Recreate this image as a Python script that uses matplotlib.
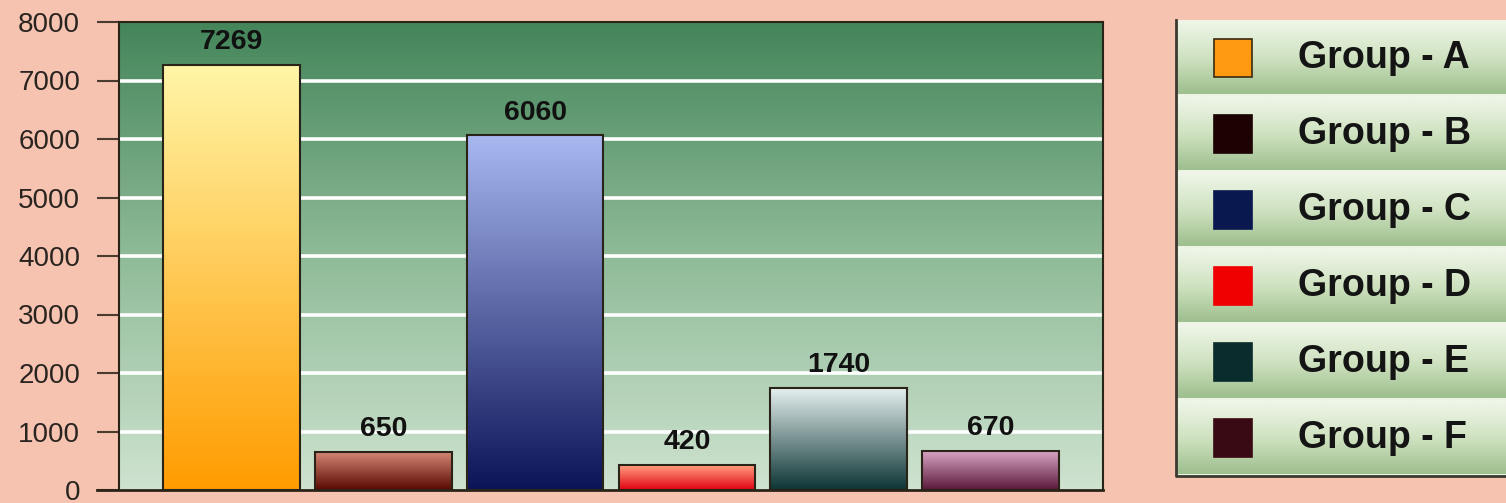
import numpy as np
import matplotlib
matplotlib.use("Agg")
import matplotlib.pyplot as plt
from matplotlib.colors import LinearSegmentedColormap
from matplotlib.patches import Rectangle

# data
groups = ["Group - A", "Group - B", "Group - C", "Group - D", "Group - E", "Group - F"]
values = [7269, 650, 6060, 420, 1740, 670]
yticks = [0, 1000, 2000, 3000, 4000, 5000, 6000, 7000, 8000]

# bar gradients (top colour, bottom colour) and legend swatch colours
bar_top = ["#fff6a8", "#d88a78", "#a8b8f0", "#ffa080", "#e6f0f0", "#dca8c8"]
bar_bottom = ["#ff9c00", "#580800", "#0c1458", "#e00010", "#0c3434", "#5a1838"]
swatch = ["#ff9a10", "#1c0202", "#0a1850", "#f00000", "#0a2c2c", "#3a0a14"]

bg = "#f5c3b0"
edge = "#2a2418"
plt.rcParams['font.family'] = ['Liberation Sans', 'DejaVu Sans']

fig = plt.figure(figsize=(15.06, 5.03), dpi=100)
fig.patch.set_facecolor(bg)
ax = fig.add_axes([119 / 1506, 13 / 503, (1103 - 119) / 1506, (490 - 22) / 503])

# green plot background gradient
plot_cmap = LinearSegmentedColormap.from_list("plot", ["#cfe3d0", "#8fbb98", "#44855a"])
ax.imshow(np.linspace(0, 1, 256).reshape(-1, 1), cmap=plot_cmap, origin="lower",
          extent=[0, 1, 0, 1], transform=ax.transAxes, aspect="auto", zorder=0)

for y in yticks[1:-1]:
    ax.axhline(y, color="white", lw=2.6, zorder=1)

x = np.arange(len(values))
width = 0.9
for i, v in enumerate(values):
    cmap = LinearSegmentedColormap.from_list("b%d" % i, [bar_bottom[i], bar_top[i]])
    x0, x1 = x[i] - width / 2, x[i] + width / 2
    ax.imshow(np.linspace(0, 1, 256).reshape(-1, 1), cmap=cmap, origin="lower",
              extent=[x0, x1, 0, v], aspect="auto", zorder=2)
    ax.add_patch(Rectangle((x0, 0), width, v, fill=False, ec=edge, lw=1.5, zorder=3))
    ax.text(x[i], v + 170, str(v), ha="center", va="bottom", fontsize=20.5,
            fontweight="bold", color="#111111", zorder=4)

ax.set_xlim(-0.74, 5.74)
ax.set_ylim(0, 8000)
ax.set_yticks(yticks)
ax.set_yticklabels([str(t) for t in yticks], fontsize=20, color="#2a2420")
ax.set_xticks([])
ax.tick_params(axis="y", length=16, width=1.5, color="#4a3a30", pad=12)
for s in ax.spines.values():
    s.set_color(edge)
    s.set_linewidth(1.5)
ax.spines["bottom"].set_visible(False)
ax.plot([-0.74 - 22 / 152, 5.74], [0, 0], color=edge, lw=2, clip_on=False, zorder=5)

# legend panel
lax = fig.add_axes([1176 / 1506, (503 - 476) / 503, (1506 - 1176) / 1506, (476 - 20) / 503])
lax.set_facecolor("#eef5e6")
lax.set_xticks([])
lax.set_yticks([])
for s in lax.spines.values():
    s.set_visible(False)
row_cmap = LinearSegmentedColormap.from_list("row", ["#9ebf8e", "#cfe2c0", "#eef6e8"])
for i, name in enumerate(groups):
    y0 = len(groups) - 1 - i
    lax.imshow(np.linspace(0, 1, 64).reshape(-1, 1), cmap=row_cmap, origin="lower",
               extent=[0, 1, y0 + 0.03, y0 + 0.97], aspect="auto", zorder=1)
    lax.add_patch(Rectangle((0.115, y0 + 0.25), 0.115, 0.5, fc=swatch[i],
                            ec="#3a2a10" if i == 0 else swatch[i], lw=1.2, zorder=2))
    lax.text(0.37, y0 + 0.5, name, ha="left", va="center", fontsize=27,
             fontweight="bold", color="#141414", zorder=3)
lax.set_xlim(0, 1)
lax.set_ylim(0, len(groups))
lax.plot([0, 0, 1], [len(groups), 0, 0], color="#3a3a30", lw=2, zorder=4, clip_on=False)

fig.savefig("out.png", dpi=100, facecolor=bg)
